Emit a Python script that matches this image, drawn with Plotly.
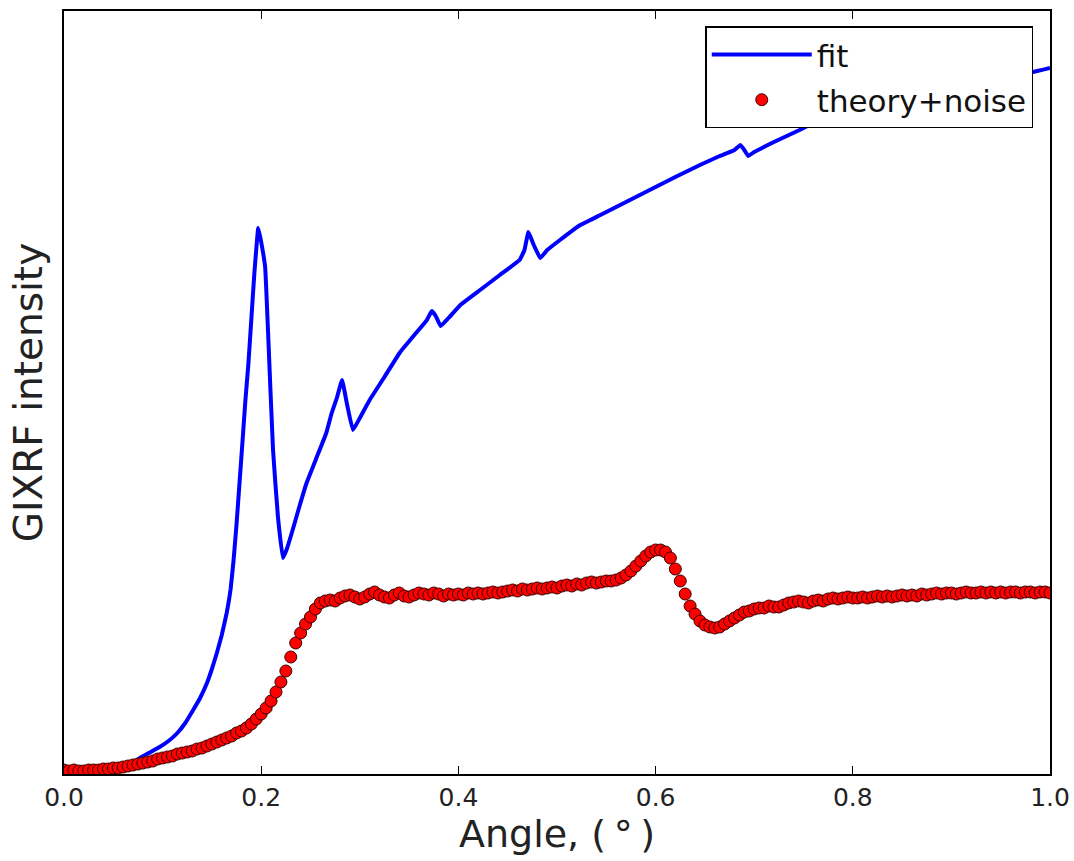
import plotly.graph_objects as go

# --- data (intensity in arbitrary units) ---
theory_angle = [round(i * 0.005, 3) for i in range(201)]
theory_intensity = [
    4, 3, 4, 3, 3, 4, 4, 4, 5, 5,
    6, 6, 7, 8, 9, 10, 11, 12, 13, 15,
    16, 17, 18, 20, 21, 22, 23, 25, 26, 28,
    30, 32, 34, 36, 38, 41, 43, 46, 50, 55,
    60, 66, 73, 82, 92, 103, 117, 131, 141, 150,
    157, 165, 171, 173, 174, 173, 176, 178, 179, 177,
    175, 177, 180, 182, 179, 177, 176, 179, 181, 178,
    177, 179, 181, 180, 179, 181, 180, 178, 180, 179,
    180, 179, 181, 180, 181, 180, 181, 182, 181, 182,
    183, 184, 183, 185, 184, 185, 186, 185, 186, 187,
    186, 188, 189, 188, 190, 189, 191, 192, 191, 192,
    193, 193, 194, 196, 199, 203, 208, 213, 218, 222,
    224, 224, 222, 216, 205, 193, 180, 168, 160, 153,
    149, 147, 146, 147, 150, 153, 156, 159, 162, 163,
    165, 166, 166, 168, 167, 167, 169, 171, 172, 173,
    172, 171, 173, 174, 173, 175, 176, 175, 176, 177,
    176, 176, 177, 176, 177, 178, 177, 178, 177, 178,
    179, 178, 179, 178, 180, 179, 180, 181, 180, 181,
    181, 180, 181, 182, 181, 181, 182, 181, 182, 181,
    182, 181, 182, 182, 181, 182, 182, 181, 182, 182,
    181,
]

fit_angle = [
    0.0, 0.02, 0.04, 0.05, 0.06, 0.068, 0.077, 0.086, 0.097, 0.106,
    0.115, 0.123, 0.131, 0.138, 0.145, 0.150, 0.155, 0.160, 0.165, 0.169,
    0.172, 0.175, 0.178, 0.181, 0.184, 0.187, 0.190, 0.193, 0.195, 0.197,
    0.200, 0.204, 0.207, 0.212, 0.217, 0.222, 0.226, 0.231, 0.238, 0.246,
    0.256, 0.266, 0.2715, 0.277, 0.282, 0.287, 0.293, 0.30, 0.31, 0.325,
    0.341, 0.357, 0.368, 0.373, 0.377, 0.382, 0.390, 0.402, 0.422, 0.442,
    0.462, 0.467, 0.471, 0.476, 0.483, 0.490, 0.503, 0.522, 0.544, 0.570,
    0.594, 0.620, 0.645, 0.665, 0.680, 0.686, 0.690, 0.694, 0.70, 0.72,
    0.746, 0.772, 0.797, 0.822, 0.848, 0.875, 0.9, 0.95, 0.983, 1.0,
]
fit_intensity = [
    3, 3, 4, 5, 7, 10, 16, 21, 27, 33,
    41, 51, 64, 76, 91, 105, 121, 139, 161, 185,
    214, 250, 291, 332, 374, 410, 455, 500, 525, 546,
    532, 507, 441, 324, 257, 216, 225, 241, 265, 291,
    316, 341, 361, 377, 394, 370, 344, 356, 374, 397,
    422, 441, 454, 463, 458, 448, 456, 469, 484, 499,
    514, 524, 542, 530, 516, 524, 534, 548, 559, 572,
    584, 597, 609, 618, 624, 629, 624, 618, 622, 632,
    644, 657, 669, 678, 686, 692, 697, 700, 702, 706,
]

x_ticks = [0.0, 0.2, 0.4, 0.6, 0.8, 1.0]
x_tick_labels = ["0.0", "0.2", "0.4", "0.6", "0.8", "1.0"]

FONT = "DejaVu Sans"

fig = go.Figure()
fig.add_trace(go.Scatter(
    x=fit_angle, y=fit_intensity, mode="lines", name="fit",
    line=dict(color="#0000ff", width=4, shape="spline", smoothing=0.3),
    legendgroup="a",
))
fig.add_trace(go.Scatter(
    x=theory_angle, y=theory_intensity, mode="markers", name="theory+noise",
    marker=dict(color="#ff0000", size=12, line=dict(color="#3a0000", width=1)),
    legendgroup="b",
))

fig.update_layout(
    width=1074, height=861,
    margin=dict(l=64, r=24, t=11, b=87, autoexpand=False),
    paper_bgcolor="white", plot_bgcolor="white",
    font=dict(family=FONT, color="black", size=25),
    showlegend=True,
    legend=dict(
        x=0.983, y=0.980, xanchor="right", yanchor="top",
        bgcolor="white", bordercolor="black", borderwidth=1.5,
        font=dict(family=FONT, size=31, color="#111111"),
        itemwidth=100, tracegroupgap=2,
    ),
    xaxis=dict(
        range=[0, 1], tickvals=x_ticks, ticktext=x_tick_labels,
        ticks="inside", ticklen=8, tickcolor="black", tickwidth=1,
        showline=True, linecolor="black", linewidth=1.5, mirror="ticks",
        showgrid=False, zeroline=False, automargin=False,
        ticklabeloverflow="allow",
        tickfont=dict(family=FONT, size=25, color="#222222"),
        title=dict(text="Angle, (\u2009°\u2009)", font=dict(family=FONT, size=38, color="#222222"), standoff=8),
    ),
    yaxis=dict(
        range=[0, 763], showticklabels=False, ticks="",
        showline=True, linecolor="black", linewidth=1.5, mirror=True,
        showgrid=False, zeroline=False, automargin=False,
        title=dict(text="GIXRF intensity", font=dict(family=FONT, size=39, color="#222222"), standoff=8),
    ),
)

fig.write_html("out.html")
